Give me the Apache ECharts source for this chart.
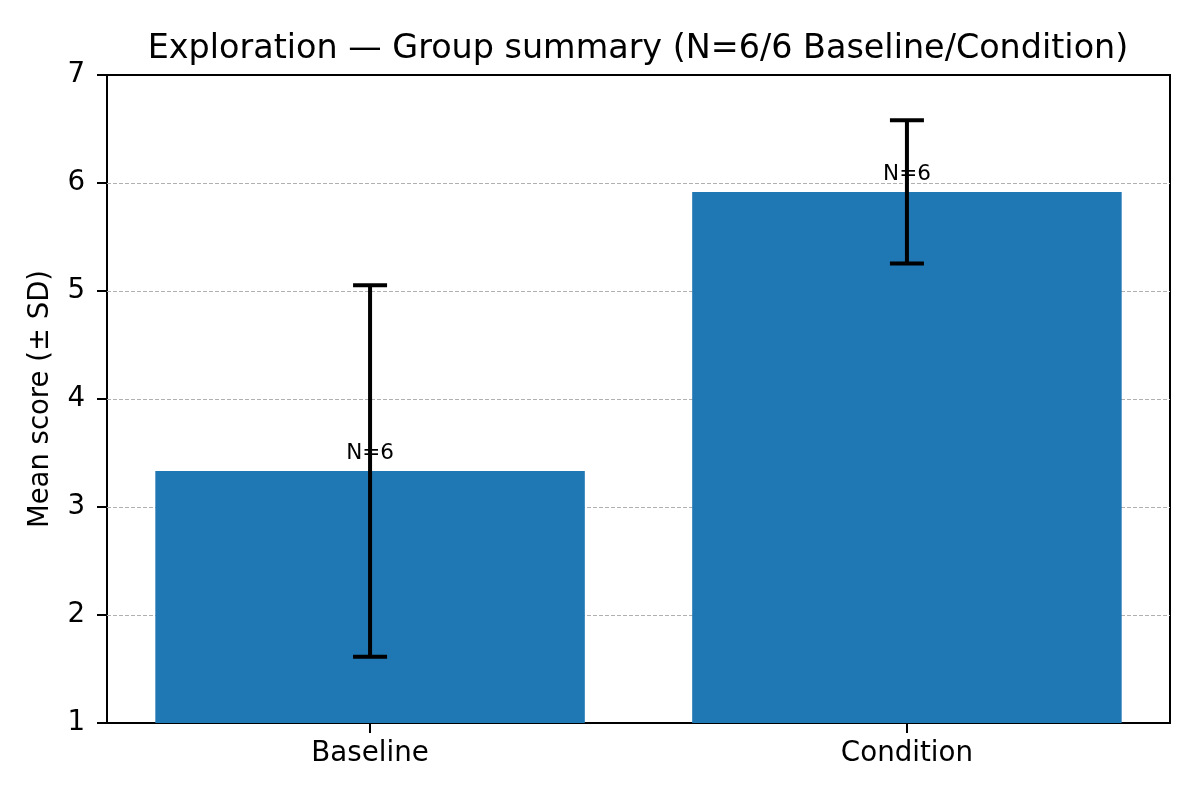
<!DOCTYPE html>
<html>
<head>
<meta charset="utf-8">
<script src="https://cdn.jsdelivr.net/npm/echarts@6/dist/echarts.min.js"></script>
<style>html,body{margin:0;padding:0;background:#fff;}#c{width:1200px;height:800px;}</style>
</head>
<body>
<div id="c"></div>
<script>
const categories = ['Baseline', 'Condition'];
const means = [3.333, 5.917];
const sds = [1.72, 0.663];
const counts = [6, 6];
const yTicks = [1, 2, 3, 4, 5, 6, 7];

const chart = echarts.init(document.getElementById('c'));
const data = categories.map((c, i) => [i, means[i], sds[i], counts[i]]);
const FONT = 'DejaVu Sans';

chart.setOption({
  animation: false,
  backgroundColor: '#fff',
  title: {
    text: 'Exploration \u2014 Group summary (N=6/6 Baseline/Condition)',
    left: 633, top: 28, textAlign: 'center',
    textStyle: { fontFamily: FONT, fontSize: 33.4, fontWeight: 'normal', color: '#000' }
  },
  grid: { left: 107, right: 30, top: 75, bottom: 77, show: true, borderColor: '#000', borderWidth: 2, backgroundColor: 'transparent' },
  xAxis: {
    type: 'value', min: -0.49, max: 1.49,
    splitLine: { show: false },
    axisLine: { show: false, onZero: false },
    axisTick: { show: true, customValues: [0, 1], length: 10, lineStyle: { color: '#000', width: 2 } },
    axisLabel: { customValues: [0, 1], formatter: v => categories[Math.round(v)], fontFamily: FONT, fontSize: 27.7, color: '#000', margin: 17 }
  },
  yAxis: {
    type: 'value', min: yTicks[0], max: yTicks[yTicks.length - 1], interval: 1,
    name: 'Mean score (\u00b1 SD)', nameLocation: 'middle', nameGap: 52, nameRotate: 90,
    nameTextStyle: { fontFamily: FONT, fontSize: 27.5, color: '#000' },
    axisLine: { show: false, onZero: false },
    axisTick: { show: true, length: 10, lineStyle: { color: '#000', width: 2 } },
    axisLabel: { fontFamily: FONT, fontSize: 27.7, color: '#000', margin: 22 },
    splitLine: { show: true, showMinLine: false, showMaxLine: false, lineStyle: { color: '#b0b0b0', type: [4, 2], width: 1 } }
  },
  series: [{
    type: 'custom',
    data: data,
    encode: { x: 0, y: 1 },
    clip: false,
    renderItem: function (params, api) {
      const x = api.value(0), m = api.value(1), s = api.value(2), n = api.value(3);
      const pL = api.coord([x - 0.4, m]);
      const pR = api.coord([x + 0.4, yTicks[0]]);
      const c = api.coord([x, m]);
      const top = api.coord([x, m + s]);
      const bot = api.coord([x, m - s]);
      const cap = 17;
      const ls = { stroke: '#000', lineWidth: 4 };
      return {
        type: 'group',
        children: [
          { type: 'rect', shape: { x: pL[0], y: pL[1], width: pR[0] - pL[0], height: pR[1] - pL[1] }, style: { fill: '#1f77b4' } },
          { type: 'text', style: { x: c[0], y: c[1] - 7, text: 'N=' + n, align: 'center', verticalAlign: 'bottom', font: '21.5px "DejaVu Sans"', fill: '#000' } },
          { type: 'line', shape: { x1: top[0], y1: top[1], x2: bot[0], y2: bot[1] }, style: ls },
          { type: 'line', shape: { x1: top[0] - cap, y1: top[1], x2: top[0] + cap, y2: top[1] }, style: ls },
          { type: 'line', shape: { x1: bot[0] - cap, y1: bot[1], x2: bot[0] + cap, y2: bot[1] }, style: ls }
        ]
      };
    }
  }]
});
</script>
</body>
</html>
